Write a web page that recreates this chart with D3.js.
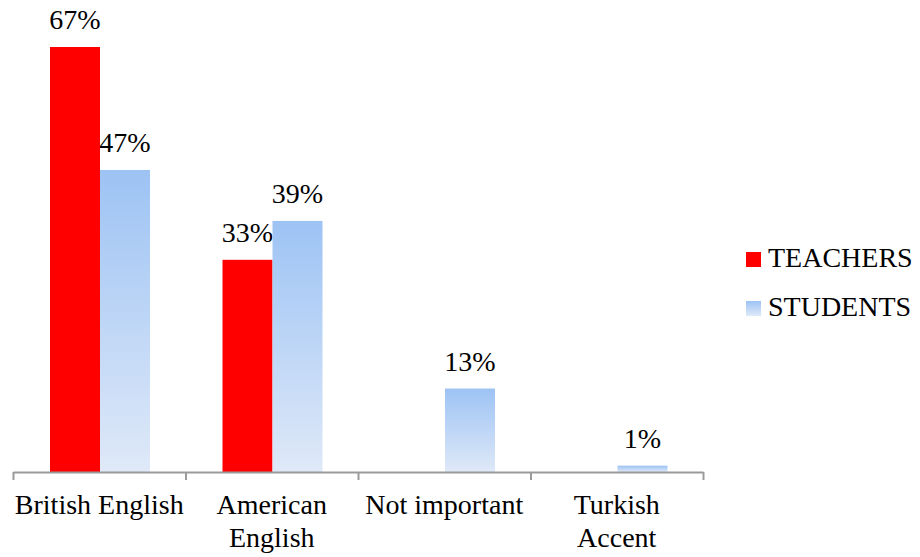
<!DOCTYPE html>
<html><head><meta charset="utf-8"><script src="https://cdn.jsdelivr.net/npm/d3@7"></script></head>
<body style="margin:0">
<svg id="s" width="920" height="557"></svg>
<script>
// categories, split into the lines they are shown on
const categories = ["British English", "American English", "Not important", "Turkish Accent"];
const categoryLines = [["British English"], ["American", "English"], ["Not important"], ["Turkish", "Accent"]];
const seriesNames = ["TEACHERS", "STUDENTS"];
const teachers = [66.7, 33.3, 0, 0];
const students = [47.4, 39.4, 13.1, 1];

const fontSize = 28;
const svg = d3.select("#s");

const left = 13, right = 703, axisY = 472;

const x = d3.scaleBand().domain(categories).range([left, right]);
const xInner = d3.scaleBand().domain(seriesNames).range([37, 137]);
const y = d3.scaleLinear().domain([0, 66.7]).range([axisY, 47]);

const rows = categories.map((c, i) => ({cat: c, values: [
  {name: "TEACHERS", v: teachers[i]},
  {name: "STUDENTS", v: students[i]}
]}));

// value labels, category labels and legend text
const labels = [];
rows.forEach(r => r.values.forEach(v => {
  if (v.v > 0) labels.push({t: Math.round(v.v) + "%", x: x(r.cat) + xInner(v.name) + xInner.bandwidth() / 2, y: y(v.v) - 18, a: "middle"});
}));
categories.forEach((c, i) => categoryLines[i].forEach((l, j) => {
  labels.push({t: l, x: x(c) + x.bandwidth() / 2, y: 514 + j * 33, a: "middle"});
}));
seriesNames.forEach((s, i) => labels.push({t: s, x: 768, y: 267 + i * 49, a: "start"}));

svg.selectAll("text").data(labels).enter().append("text")
  .attr("x", d => d.x)
  .attr("y", d => d.y)
  .attr("font-family", d => "'Liberation Serif'")
  .attr("font-size", 28)
  .attr("text-anchor", d => d.a)
  .text(d => d.t);

const defs = svg.append("defs");
const grad = defs.append("linearGradient").attr("id", "blueGrad")
  .attr("x1", 0).attr("y1", 0).attr("x2", 0).attr("y2", 1);
grad.append("stop").attr("offset", "0%").attr("stop-color", "#9dc3f4");
grad.append("stop").attr("offset", "100%").attr("stop-color", "#dfe9f8");

const fill = name => name === "TEACHERS" ? "#ff0000" : "url(#blueGrad)";

const groups = svg.selectAll("g.grp").data(rows).enter().append("g")
  .attr("class", "grp")
  .attr("transform", d => `translate(${x(d.cat)},0)`);

groups.selectAll("rect").data(d => d.values.filter(e => e.v > 0)).enter().append("rect")
  .attr("x", d => xInner(d.name))
  .attr("width", xInner.bandwidth())
  .attr("y", d => y(d.v))
  .attr("height", d => axisY - y(d.v))
  .attr("fill", d => fill(d.name));

// axis line with ticks at group boundaries
const edges = d3.scaleLinear().domain([0, categories.length]).range([left, right]);
const gx = svg.append("g").attr("transform", `translate(0,${axisY})`)
  .call(d3.axisBottom(edges).tickValues(d3.range(categories.length + 1)).tickSize(8).tickSizeOuter(0).tickFormat(""));
gx.attr("font-family", null).attr("font-size", null);
gx.selectAll("text").remove();
gx.selectAll("path, line").attr("stroke", "#9a9a9a").attr("stroke-width", 2);

// legend swatches
svg.selectAll("rect.leg").data(seriesNames).enter().append("rect")
  .attr("class", "leg")
  .attr("x", 746).attr("y", (d, i) => 252 + i * 49)
  .attr("width", 15).attr("height", 15).attr("fill", d => fill(d));
</script></body></html>
